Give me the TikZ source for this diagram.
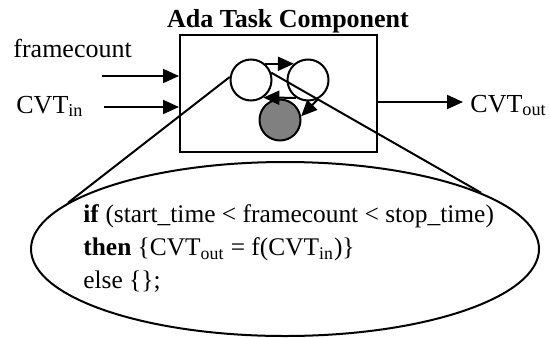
\documentclass[tikz,border=0pt]{standalone}
\usepackage{fontspec}
\setmainfont{Liberation Serif}
\usetikzlibrary{arrows.meta,positioning,shapes.geometric}
\tikzset{
  taskbox/.style={draw, line width=1pt, minimum width=98.5pt, minimum height=58.5pt},
  state/.style={circle, draw, line width=1pt, minimum size=20.5pt, inner sep=0pt},
  busy/.style={state, fill=black!50},
  flow/.style={-{Triangle[length=8pt,width=7pt]}, line width=1pt},
  callout/.style={line width=1pt},
  bubble/.style={ellipse, draw, line width=1pt, minimum width=254pt,
    minimum height=87pt, inner sep=0pt},
  sigtext/.style={font=\fontsize{13}{16}\selectfont, inner sep=0pt},
  codetext/.style={font=\fontsize{12.7}{16.3}\selectfont, align=left, inner sep=0pt}
}
\begin{document}
\begin{tikzpicture}[x=0.5pt, y=-0.5pt]
  \useasboundingbox (0,0) rectangle (550,337);
  % the task and its three states
  \node[taskbox] (box) at (278.5,93.5) {};
  \node[sigtext, font=\fontsize{13}{16}\selectfont\bfseries, anchor=base] (title)
    at (288,27) {Ada Task Component};
  \node[state] (idle) at (251,80) {};
  \node[state] (wait) at (308,80) {};
  \node[busy] (run) at (280,120) {};
  \draw[flow] (idle.49) -- (wait.131);
  \draw[flow] (wait.236) -- (idle.305);
  \draw[flow] (wait.298) -- (run.10);
  % inputs and output
  \node[sigtext, anchor=base west] (fc) at (13,57) {framecount};
  \node[sigtext, anchor=base west] (cvtin) at (16,113) {CVT\textsubscript{in}};
  \node[sigtext, anchor=base west] (cvtout) at (470,112) {CVT\textsubscript{out}};
  \coordinate (fcstart) at (102,76);
  \coordinate (instart) at (104,107);
  \coordinate (outtip) at (463,102);
  \draw[flow] (fcstart) -- (fcstart -| box.west);
  \draw[flow] (instart) -- (instart -| box.west);
  \draw[flow] (outtip -| box.east) -- (outtip);
  % the body of the task, zoomed out of the first state
  \node[bubble] (body) at (285,249) {};
  \node[codetext, anchor=base west] (code) at (83,288)
    {\textbf{if} (start\_time < framecount < stop\_time)\\
     \textbf{then} \{CVT\textsubscript{out} = f(CVT\textsubscript{in})\}\\
     else \{\};};
  \draw[callout] (idle.172) -- (body.168.7);
  \draw[callout] (idle.20) -- (body.16);
\end{tikzpicture}
\end{document}
